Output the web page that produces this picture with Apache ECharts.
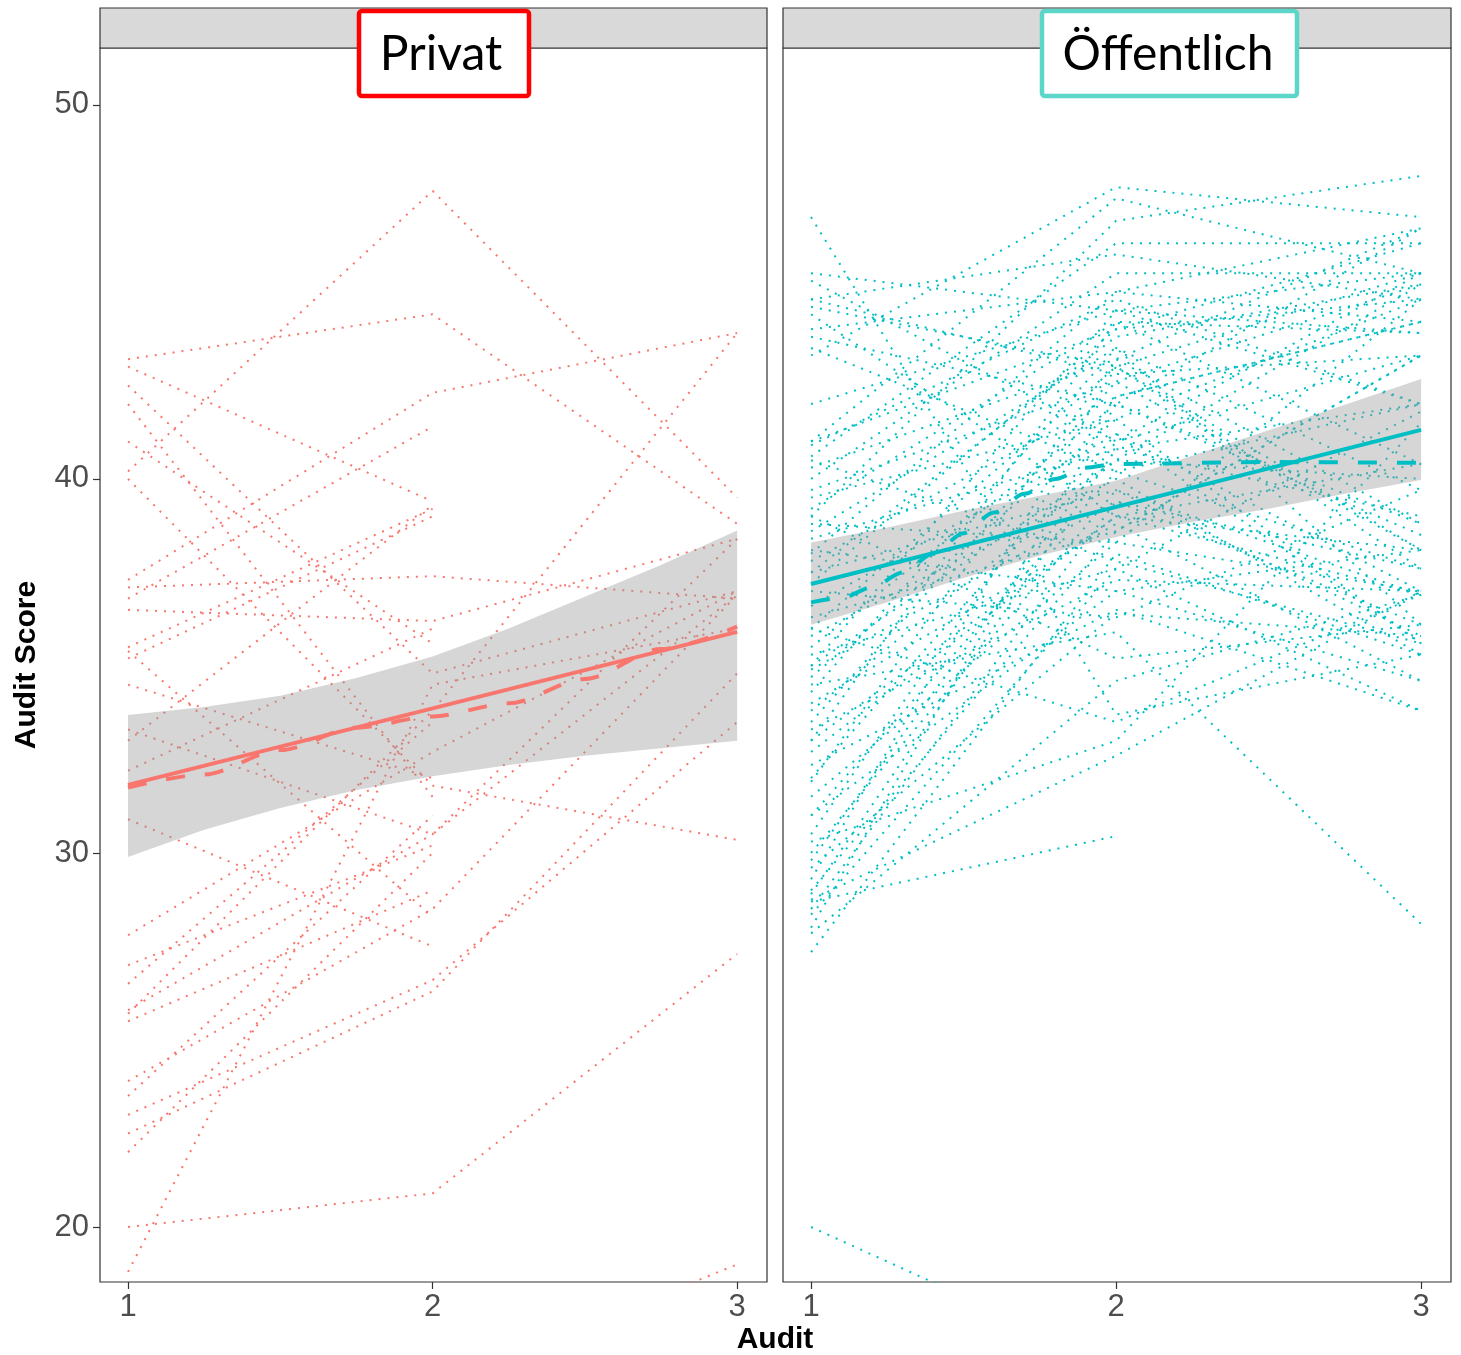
<!DOCTYPE html>
<html>
<head>
<meta charset="utf-8">
<title>Audit Score</title>
<script src="https://cdn.jsdelivr.net/npm/echarts@6/dist/echarts.min.js"></script>
<style>
  html, body { margin: 0; padding: 0; background: #ffffff; }
  #chart { width: 1461px; height: 1355px; }
</style>
</head>
<body>
<div id="chart"></div>
<script>
// Audit rounds on the x axis
const auditTicks = [1, 2, 3];
const scoreTicks = [20, 30, 40, 50];

// Individual trajectories, Privat (score at audit 1, 2, 3; null = not audited)
const privatAudit1 = [43.2, 40.2, 37.3, 37.1, 25.7, 43.0, 42.5, 42.0, 41.0, 40.0, 36.8, 35.5, 35.2, 33.0, 36.5, 35.4, 34.5, 32.2, 33.3, 30.9, 26.5, 25.8, 25.5, 23.9, 23.5, 23.0, 22.5, 22.0, 20.0, 18.8, null, 27.8, 27.0];
const privatAudit2 = [44.4, 47.7, 42.3, 37.4, 33.8, 39.4, 34.8, 31.5, 35.6, 31.8, 41.4, 39.2, 39.0, 39.3, 36.2, 28.3, 32.0, 36.0, 30.5, 27.5, 33.5, 30.5, 29.0, 28.5, 31.0, 26.6, 26.3, 30.0, 20.9, 34.5, 15.7, 32.7, 30.2];
const privatAudit3 = [38.8, 39.5, 43.9, 36.8, 43.9, null, 37.0, null, null, 30.35, null, null, null, null, 38.4, null, null, null, 36.9, null, null, 38.4, null, 36.9, null, 33.5, 34.8, null, 27.3, 36.0, 19.0, 37.0, null];

// Individual trajectories, Öffentlich
const oeffAudit1 = [47.0, 45.5, 45.3, 44.8, 44.6, 44.4, 44.0, 43.8, 43.3, 43.5, 41.0, 40.9, 40.6, 40.3, 40.0, 39.7, 39.5, 39.2, 39.0, 38.8, 38.6, 38.4, 38.1, 37.8, 37.5, 37.2, 37.0, 36.6, 36.3, 36.0, 35.8, 35.5, 35.3, 35.0, 34.9, 34.7, 34.5, 34.3, 34.0, 33.8, 33.5, 33.3, 33.0, 32.7, 32.35, 32.0, 31.9, 31.5, 31.0, 30.5, 30.3, 30.0, 29.8, 29.6, 29.3, 29.0, 28.9, 28.75, 28.5, 28.7, 28.35, 28.0, 27.85, 27.35, 20.0, 41.0, 44.8, 39.0, 36.0, 38.0, 35.0, 33.0, 40.5, 37.5, 31.0, 42.0];
const oeffAudit2 = [33.7, 44.5, 41.0, 46.0, 43.0, 39.0, 45.0, 42.0, 47.8, 40.2, 47.5, 44.8, 46.3, 43.2, 45.5, 42.6, 41.6, 44.2, 46.9, 38.3, 43.5, 40.8, 37.0, 42.2, 39.7, 44.0, 36.3, 41.2, 38.6, 43.0, 40.0, 42.0, 37.6, 44.5, 39.4, 41.6, 35.9, 43.5, 38.8, 40.5, 42.6, 37.3, 44.2, 39.0, 36.5, 41.2, 43.2, 38.3, 40.2, 42.2, 33.0, 39.7, 41.0, 36.4, 43.0, 38.6, 40.8, 32.6, 39.4, 30.45, 37.6, 42.0, 34.6, 38.0, 16.3, 44.0, 42.8, 35.2, 33.5, 45.0, 40.5, 39.0, 37.8, 43.8, 37.0, 44.5];
const oeffAudit3 = [35.3, 45.5, 43.3, 44.8, 38.1, 36.9, 44.2, 46.7, 47.0, 37.6, 45.5, 42.0, 46.3, 38.8, 45.5, 45.2, 35.6, 40.4, 48.1, 44.8, 36.1, 42.0, 38.1, 44.2, 35.8, 46.3, 39.7, 37.0, 43.3, 45.5, 35.3, 38.8, 33.8, 42.0, 37.6, 44.8, 28.1, 39.7, 34.6, 45.2, 38.1, 37.0, 43.9, 40.4, 33.8, 35.6, 46.7, 37.0, 42.0, 44.2, 41.5, 36.9, 45.5, 35.8, 37.6, 43.3, 39.0, 37.0, 36.1, null, 41.8, 38.5, 36.9, 35.3, null, 44.8, 43.3, 36.1, 36.9, 46.7, 40.0, 38.1, 35.6, 45.2, 34.6, 43.9];

// Linear fit (solid) with its confidence band, and the smoothed mean (dashed)
const lmX = [1, 3];
const privatLm = [31.82, 35.91];
const oeffLm = [37.19, 41.31];
const bandX = [1, 1.25, 1.5, 1.75, 2, 2.25, 2.5, 2.75, 3];
const privatBandHigh = [33.69, 33.9, 34.2, 34.68, 35.25, 36.0, 36.85, 37.7, 38.62];
const privatBandLow = [29.89, 30.62, 31.2, 31.68, 32.05, 32.35, 32.6, 32.8, 33.0];
const oeffBandHigh = [38.3, 38.7, 39.15, 39.55, 39.95, 40.62, 41.3, 41.98, 42.67];
const oeffBandLow = [36.1, 36.7, 37.35, 37.95, 38.45, 38.85, 39.2, 39.6, 39.97];
const privatSmoothX = [1, 1.25, 1.5, 1.75, 2, 2.25, 2.5, 2.75, 3];
const privatSmooth = [31.75, 32.1, 32.75, 33.35, 33.65, 34.0, 34.65, 35.45, 36.05];
const oeffSmoothX = [1, 1.1, 1.2, 1.3, 1.4, 1.5, 1.6, 1.7, 1.8, 1.9, 2, 2.5, 3];
const oeffSmooth = [36.70, 36.82, 37.1, 37.5, 38.0, 38.55, 39.1, 39.6, 40.0, 40.3, 40.4, 40.45, 40.43];

const panels = ['Privat', 'Öffentlich'];
const colors = ['#F8766D', '#00BFC4'];
const boxColors = ['#FF0000', '#5CD6C9'];

const chart = echarts.init(document.getElementById('chart'), null, { renderer: 'canvas' });

const gridPos = [
  { left: 100, top: 48, width: 667, height: 1234 },
  { left: 783, top: 48, width: 668, height: 1234 }
];

function trajectorySeries(a1, a2, a3, gi) {
  return a1.map((v, i) => {
    const pts = [[1, a1[i]], [2, a2[i]], [3, a3[i]]].filter(p => p[1] !== null);
    return {
      type: 'line', xAxisIndex: gi, yAxisIndex: gi, data: pts,
      symbol: 'none', silent: true, clip: true, z: 1,
      lineStyle: { color: colors[gi], width: 2, type: [2, 7], cap: 'butt' }
    };
  });
}

function bandSeries(hi, lo, gi) {
  return {
    type: 'custom', xAxisIndex: gi, yAxisIndex: gi, silent: true, z: 2,
    data: [[2, hi[4]]],
    renderItem: (params, api) => {
      const upper = bandX.map((x, i) => api.coord([x, hi[i]]));
      const lower = bandX.map((x, i) => api.coord([x, lo[i]])).reverse();
      return { type: 'polygon', shape: { points: upper.concat(lower) }, style: { fill: 'rgba(153,153,153,0.4)' } };
    }
  };
}

function fitSeries(lm, gi) {
  return {
    type: 'line', xAxisIndex: gi, yAxisIndex: gi, silent: true, z: 3,
    data: lmX.map((x, i) => [x, lm[i]]), symbol: 'none',
    lineStyle: { color: colors[gi], width: 4 }
  };
}

function smoothSeries(xs, ys, gi) {
  return {
    type: 'line', xAxisIndex: gi, yAxisIndex: gi, silent: true, z: 3,
    data: xs.map((x, i) => [x, ys[i]]), symbol: 'none', smooth: 0.3, smoothMonotone: 'x',
    lineStyle: { color: colors[gi], width: 4, type: [19, 20], cap: 'butt' }
  };
}

const axisFont = 'Liberation Sans, Arial, sans-serif';

const xAxes = [0, 1].map(gi => ({
  gridIndex: gi, type: 'value', min: 0.908, max: 3.098,
  axisLine: { show: false }, splitLine: { show: false },
  axisTick: { show: true, length: 7, customValues: auditTicks, lineStyle: { color: '#333333', width: 1.2 } },
  axisLabel: { customValues: auditTicks, fontSize: 31, color: '#4D4D4D', margin: 10, fontFamily: axisFont }
}));

const yAxes = [0, 1].map(gi => ({
  gridIndex: gi, type: 'value', min: 18.53, max: 51.52,
  axisLine: { show: false }, splitLine: { show: false },
  axisTick: { show: gi === 0, length: 7, customValues: scoreTicks, lineStyle: { color: '#333333', width: 1.2 } },
  axisLabel: { show: gi === 0, customValues: scoreTicks, fontSize: 31, color: '#4D4D4D', margin: 11, fontFamily: axisFont },
  name: gi === 0 ? 'Audit Score' : '', nameLocation: 'middle', nameRotate: 90, nameGap: 58,
  nameTextStyle: { fontSize: 30, fontWeight: 'bold', color: '#000000', fontFamily: axisFont }
}));

const graphics = [];
gridPos.forEach((g, gi) => {
  // facet strip
  graphics.push({
    type: 'rect', shape: { x: g.left, y: 8, width: g.width, height: 40 },
    style: { fill: '#D9D9D9', stroke: '#333333', lineWidth: 1.2 }, z: 10
  });
});
// facet labels in framed boxes
const boxes = [
  { x: 359, w: 170, cx: 441 },
  { x: 1042, w: 255, cx: 1168 }
];
boxes.forEach((b, gi) => {
  graphics.push({
    type: 'rect', shape: { x: b.x, y: 11, width: b.w, height: 85, r: 3 },
    style: { fill: '#FFFFFF', stroke: boxColors[gi], lineWidth: 4.5 }, z: 20
  });
  graphics.push({
    type: 'text', x: b.cx, y: 55, z: 21,
    style: { text: panels[gi], fontSize: 48, fontFamily: 'Lato, sans-serif', fill: '#000000', align: 'center', verticalAlign: 'middle' }
  });
});
graphics.push({
  type: 'text', x: 775, y: 1340, z: 21,
  style: { text: 'Audit', fontSize: 30, fontWeight: 'bold', fontFamily: axisFont, fill: '#000000', align: 'center', verticalAlign: 'middle' }
});

const series = []
  .concat(trajectorySeries(privatAudit1, privatAudit2, privatAudit3, 0))
  .concat(trajectorySeries(oeffAudit1, oeffAudit2, oeffAudit3, 1))
  .concat([
    bandSeries(privatBandHigh, privatBandLow, 0),
    bandSeries(oeffBandHigh, oeffBandLow, 1),
    fitSeries(privatLm, 0),
    fitSeries(oeffLm, 1),
    smoothSeries(privatSmoothX, privatSmooth, 0),
    smoothSeries(oeffSmoothX, oeffSmooth, 1)
  ]);

chart.setOption({
  animation: false,
  backgroundColor: '#FFFFFF',
  grid: gridPos.map(g => Object.assign({
    show: true, borderColor: '#333333', borderWidth: 1.2, backgroundColor: '#FFFFFF',
    containLabel: false, outerBoundsMode: 'none'
  }, g)),
  xAxis: xAxes,
  yAxis: yAxes,
  graphic: graphics,
  series: series
});
</script>
</body>
</html>
